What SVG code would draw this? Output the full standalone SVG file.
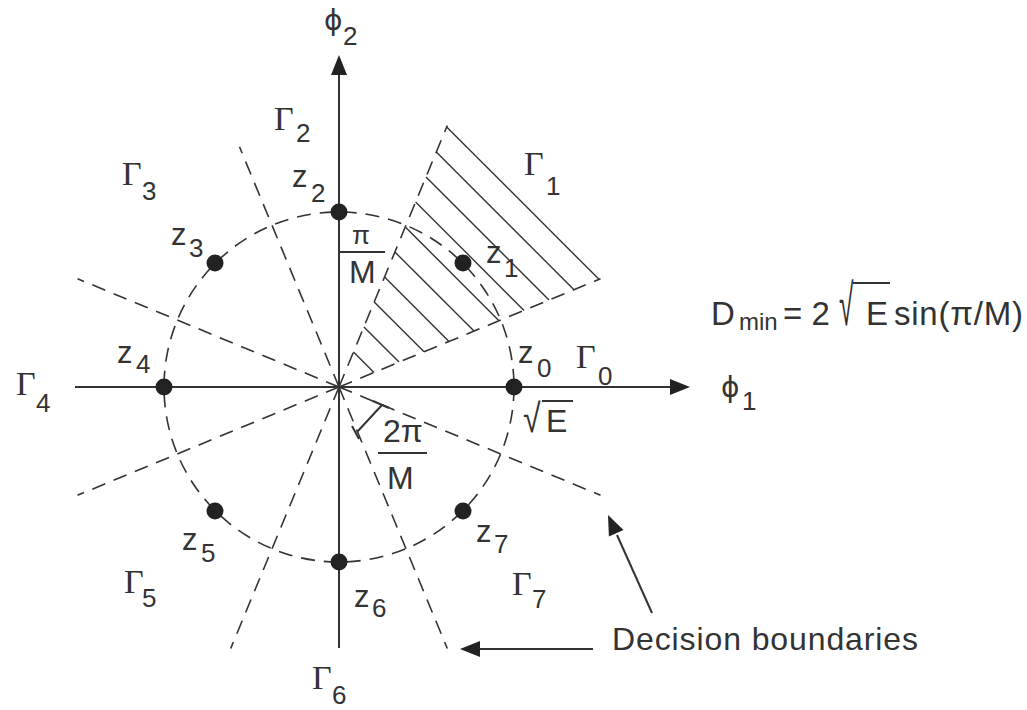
<svg xmlns="http://www.w3.org/2000/svg" width="1027" height="710" viewBox="0 0 1027 710">
<style>
.sans{font-family:"Liberation Sans",Arial,sans-serif;fill:#333}
.serif{font-family:"Liberation Serif","Times New Roman",serif;fill:#333}
.phi{font-family:"DejaVu Sans","Liberation Sans",sans-serif;fill:#333;font-size:28px}
.g{font-size:34px}
.sub{font-size:26px}
.z{font-size:31px}
.big{font-size:32px}
.dash{stroke:#333;stroke-width:1.6;fill:none;stroke-dasharray:14 9}
.solid{stroke:#333;stroke-width:2;fill:none}
.hatch{stroke:#333;stroke-width:1.4;fill:none}
.dot{fill:#222}
.head{fill:#222}
</style>
<rect width="1027" height="710" fill="#fff"/>

<g id="hatched-region">
<line class="hatch" x1="446.7" y1="127" x2="599" y2="279.3"/>
<line class="hatch" x1="436.3" y1="152" x2="574" y2="289.7"/>
<line class="hatch" x1="426" y1="177" x2="549" y2="300"/>
<line class="hatch" x1="415.6" y1="202" x2="524" y2="310.4"/>
<line class="hatch" x1="405.3" y1="227" x2="499" y2="320.7"/>
<line class="hatch" x1="394.9" y1="252" x2="474" y2="331.1"/>
<line class="hatch" x1="384.6" y1="277" x2="449" y2="341.4"/>
<line class="hatch" x1="374.2" y1="302" x2="424" y2="351.8"/>
<line class="hatch" x1="363.9" y1="327" x2="399" y2="362.1"/>
<line class="hatch" x1="353.5" y1="352" x2="374" y2="372.5"/>
</g>

<g id="connectors">
<circle class="dash" cx="339" cy="387" r="175"/>
<line class="dash" x1="339" y1="387" x2="600.5" y2="278.7"/>
<line class="dash" x1="339" y1="387" x2="447.3" y2="125.5"/>
<line class="dash" x1="339" y1="387" x2="239.5" y2="146.8"/>
<line class="dash" x1="339" y1="387" x2="77.5" y2="278.7"/>
<line class="dash" x1="339" y1="387" x2="77.5" y2="495.3"/>
<line class="dash" x1="339" y1="387" x2="230.7" y2="648.5"/>
<line class="dash" x1="339" y1="387" x2="447.3" y2="648.5"/>
<line class="dash" x1="339" y1="387" x2="600.5" y2="495.3"/>
<line class="solid" x1="75" y1="387" x2="672" y2="387"/>
<polygon class="head" points="690,387 670,379 670,395"/>
<line class="solid" x1="339" y1="648" x2="339" y2="73"/>
<polygon class="head" points="339,55 331,75 347,75"/>
<line class="solid" x1="593" y1="649" x2="478" y2="649"/>
<polygon class="head" points="460,649 480,641 480,657"/>
<line class="solid" x1="652" y1="613" x2="617" y2="535"/>
<polygon class="head" points="608,515 623.5,529.9 608.9,536.5"/>
<line class="solid" stroke-width="1.6" x1="357" y1="432" x2="382" y2="405"/>
<line class="solid" stroke-width="1.6" x1="373" y1="401" x2="389" y2="408"/>
<line class="solid" stroke-width="1.6" x1="352" y1="426" x2="359" y2="439"/>
</g>

<g id="z0"><circle class="dot" cx="514" cy="387" r="8.5"/><text class="sans z" x="518" y="363">z</text><text class="sans sub" x="537" y="377">0</text></g>
<g id="z1"><circle class="dot" cx="463" cy="263" r="8.5"/><text class="sans z" x="486" y="263">z</text><text class="sans sub" x="504" y="277">1</text></g>
<g id="z2"><circle class="dot" cx="339" cy="212" r="8.5"/><text class="sans z" x="292" y="187">z</text><text class="sans sub" x="311" y="202">2</text></g>
<g id="z3"><circle class="dot" cx="215" cy="263" r="8.5"/><text class="sans z" x="171" y="245">z</text><text class="sans sub" x="189" y="257">3</text></g>
<g id="z4"><circle class="dot" cx="164" cy="387" r="8.5"/><text class="sans z" x="117" y="363">z</text><text class="sans sub" x="136" y="373">4</text></g>
<g id="z5"><circle class="dot" cx="215" cy="511" r="8.5"/><text class="sans z" x="182" y="550">z</text><text class="sans sub" x="201" y="562">5</text></g>
<g id="z6"><circle class="dot" cx="339" cy="562" r="8.5"/><text class="sans z" x="354" y="607">z</text><text class="sans sub" x="372" y="617">6</text></g>
<g id="z7"><circle class="dot" cx="463" cy="511" r="8.5"/><text class="sans z" x="476" y="542">z</text><text class="sans sub" x="494" y="553">7</text></g>

<g id="regions">
<text class="serif g" x="576" y="368">Γ</text><text class="sans sub" x="598" y="385">0</text>
<text class="serif g" x="524" y="175">Γ</text><text class="sans sub" x="546" y="195">1</text>
<text class="serif g" x="274" y="130">Γ</text><text class="sans sub" x="296" y="142">2</text>
<text class="serif g" x="122" y="185">Γ</text><text class="sans sub" x="142" y="200">3</text>
<text class="serif g" x="16" y="395">Γ</text><text class="sans sub" x="36" y="412">4</text>
<text class="serif g" x="124" y="593">Γ</text><text class="sans sub" x="142" y="607">5</text>
<text class="serif g" x="312" y="689">Γ</text><text class="sans sub" x="332" y="704">6</text>
<text class="serif g" x="512" y="595">Γ</text><text class="sans sub" x="532" y="608">7</text>
</g>

<g id="axis-labels">
<text class="phi" x="324" y="30">ϕ</text><text class="sans sub" x="343" y="45">2</text>
<text class="phi" x="721" y="397">ϕ</text><text class="sans sub" x="742" y="410">1</text>
</g>

<g id="angle-labels">
<text class="sans" font-size="26" x="352" y="244">π</text>
<line class="solid" stroke-width="1.6" x1="340" y1="252" x2="385" y2="252"/>
<text class="sans big" x="349" y="283">M</text>
<text class="sans big" x="383" y="442">2π</text>
<line class="solid" stroke-width="1.6" x1="378" y1="453" x2="427" y2="453"/>
<text class="sans big" x="387" y="489">M</text>
</g>

<g id="radius-label">
<text class="sans big" transform="translate(523,432) scale(1,1.25)">√</text>
<text class="sans big" x="546" y="432">E</text>
<line class="solid" stroke-width="1.6" x1="542" y1="401" x2="573" y2="401"/>
</g>

<g id="dmin">
<text class="sans" font-size="33" x="711" y="325">D</text>
<text class="sans" font-size="24" x="739" y="330">min</text>
<text class="sans" font-size="33" x="783" y="325">= 2</text>
<text class="sans" font-size="33" transform="translate(839,325) scale(0.8,1.75)">√</text>
<text class="sans" font-size="33" x="866" y="325">E</text>
<line class="solid" stroke-width="1.6" x1="853" y1="283" x2="890" y2="283"/>
<text class="sans" font-size="33" x="894" y="325" textLength="129">sin(π/M)</text>
</g>

<g id="decision-label">
<text class="sans big" x="612" y="650" textLength="306">Decision boundaries</text>
</g>
</svg>
